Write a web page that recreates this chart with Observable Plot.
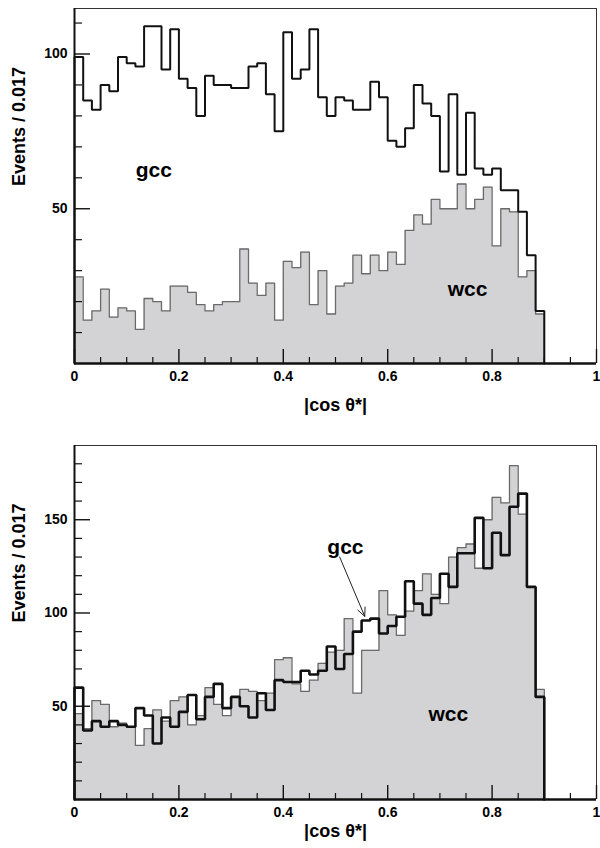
<!DOCTYPE html>
<html>
<head>
<meta charset="utf-8">
<script src="https://cdn.jsdelivr.net/npm/d3@7"></script>
<script src="https://cdn.jsdelivr.net/npm/@observablehq/plot@0.6"></script>
<style>
  body { margin: 0; background: #fff; }
  #chart svg { display: block; }
</style>
</head>
<body>
<div id="chart"></div>
<script>
// |cos θ*| histograms, 60 bins on [0, 1] (bin width 1/60 ≈ 0.017), filled up to 0.9
const binWidth = 1 / 60;

// Upper panel
const topGcc = [99, 85, 82, 90, 88, 99, 97, 96, 109, 109, 95, 108, 92, 89,
                80, 93, 90, 90, 89, 89, 96, 97, 87, 75, 107, 92, 95, 108,
                86, 80, 86, 85, 82, 82, 91, 86, 72, 70, 76, 90, 84, 80,
                62, 87, 61, 81, 63, 61, 63, 56, 56, 49, 35, 17];
const topWcc = [28, 14, 17, 24, 15, 18, 17, 11, 21, 20, 17, 25, 25, 23,
                19, 17, 19, 20, 20, 37, 26, 22, 26, 14, 33, 31, 36, 19,
                30, 16, 25, 26, 35, 29, 35, 30, 36, 32, 43, 48, 45, 53,
                50, 50, 58, 50, 53, 57, 38, 50, 49, 28, 30, 16];

// Lower panel
const botGcc = [60, 37, 42, 39, 42, 40, 39, 49, 45, 30, 44, 39, 47, 56,
                43, 55, 62, 49, 55, 50, 44, 57, 48, 64, 63, 63, 69, 67,
                69, 82, 70, 78, 90, 96, 97, 89, 93, 98, 117, 105, 99, 108,
                121, 114, 132, 132, 151, 124, 143, 131, 157, 164, 114, 55];
const botWcc = [46, 38, 53, 51, 39, 41, 39, 29, 38, 48, 42, 53, 55, 40,
                45, 60, 51, 45, 55, 59, 58, 53, 57, 75, 76, 62, 58, 64,
                73, 79, 80, 97, 57, 80, 80, 112, 99, 88, 101, 112, 121, 110,
                105, 130, 135, 137, 124, 150, 162, 159, 179, 153, 114, 59];

// Axis ticks
const xMajor = [0, 0.2, 0.4, 0.6, 0.8, 1];
const xMinor = [0.05, 0.1, 0.15, 0.25, 0.3, 0.35, 0.45, 0.5, 0.55, 0.65, 0.7, 0.75, 0.85, 0.9, 0.95];
const topYMajor = [50, 100];
const topYMinor = [10, 20, 30, 40, 60, 70, 80, 90, 110];
const botYMajor = [50, 100, 150];
const botYMinor = [10, 20, 30, 40, 60, 70, 80, 90, 110, 120, 130, 140, 160, 170, 180];

const xTitle = "|cos θ*|";
const yTitle = "Events / 0.017";

// Outline of a histogram as a step path starting and ending on the baseline
function steps(values) {
  const pts = [{x: 0, y: 0}];
  values.forEach((v, i) => {
    pts.push({x: i * binWidth, y: v}, {x: (i + 1) * binWidth, y: v});
  });
  pts.push({x: values.length * binWidth, y: 0});
  return pts;
}

const font = "'Liberation Sans', Arial, Helvetica, sans-serif";

function panel({gcc, wcc, yMax, yMajor, yMinor, height, marginTop, marginBottom,
                gccWidth, titleDy, notes, arrows}) {
  const g = steps(gcc), w = steps(wcc);
  return Plot.plot({
    width: 600,
    height,
    marginLeft: 74,
    marginRight: 4,
    marginTop,
    marginBottom,
    x: {domain: [0, 1]},
    y: {domain: [0, yMax]},
    style: {fontFamily: font, fontWeight: "bold", fontSize: "14px", color: "#000", background: "#fff"},
    marks: [
      // wcc: filled histogram with grey outline (no stacking)
      Plot.area(w, {x1: "x", y1: () => 0, y2: "y", fill: "#d3d3d5"}),
      Plot.line(w, {x: "x", y: "y", stroke: "#6a6a6a", strokeWidth: 1.3}),
      // gcc: open black histogram
      Plot.line(g, {x: "x", y: "y", stroke: "#111", strokeWidth: gccWidth, strokeLinejoin: "miter"}),
      // frame
      Plot.ruleY([yMax], {stroke: "#333", strokeWidth: 1}),
      Plot.ruleX([1], {stroke: "#333", strokeWidth: 1}),
      Plot.ruleX([0], {stroke: "#111", strokeWidth: 2}),
      Plot.ruleY([0], {stroke: "#111", strokeWidth: 2.5}),
      // inward ticks
      Plot.axisX(xMajor, {tickSize: -14, fill: "none", stroke: "#111", strokeWidth: 1.4, label: null}),
      Plot.axisX(xMinor, {tickSize: -6, fill: "none", stroke: "#111", strokeWidth: 1.2, label: null}),
      Plot.axisY(yMajor, {tickSize: -16, fill: "none", stroke: "#111", strokeWidth: 1.4, label: null}),
      Plot.axisY(yMinor, {tickSize: -8, fill: "none", stroke: "#111", strokeWidth: 1.2, label: null}),
      // tick labels
      Plot.axisX(xMajor, {tickSize: 0, tickPadding: 8, tickFormat: d => String(d), fontSize: 14, fontWeight: "bold", label: null}),
      Plot.axisY(yMajor, {tickSize: 0, tickPadding: 7, tickFormat: d => String(d), fontSize: 14, fontWeight: "bold", label: null}),
      // axis titles
      Plot.text([xTitle], {frameAnchor: "bottom", dy: titleDy, text: d => d, fontSize: 18, fontWeight: "bold"}),
      Plot.text([yTitle], {frameAnchor: "left", dx: -55, rotate: -90, text: d => d, fontSize: 18, fontWeight: "bold"}),
      // sample labels
      Plot.text(notes, {x: "x", y: "y", text: "label", fontSize: 21, fontWeight: "bold"}),
      Plot.arrow(arrows, {x1: "x1", y1: "y1", x2: "x2", y2: "y2", stroke: "#222", strokeWidth: 1, headLength: 14, headAngle: 50})
    ]
  });
}

const chart = document.getElementById("chart");

chart.append(panel({
  gcc: topGcc, wcc: topWcc,
  yMax: 114.7, yMajor: topYMajor, yMinor: topYMinor,
  height: 424, marginTop: 8, marginBottom: 61,
  gccWidth: 2, titleDy: 47,
  notes: [{x: 0.152, y: 62.5, label: "gcc"}, {x: 0.753, y: 24, label: "wcc"}],
  arrows: []
}));

chart.append(panel({
  gcc: botGcc, wcc: botWcc,
  yMax: 189.8, yMajor: botYMajor, yMinor: botYMinor,
  height: 424, marginTop: 21, marginBottom: 49,
  gccWidth: 2.6, titleDy: 37,
  notes: [{x: 0.519, y: 135.5, label: "gcc"}, {x: 0.716, y: 45.5, label: "wcc"}],
  arrows: [{x1: 0.508, y1: 130, x2: 0.556, y2: 98.2}]
}));
</script>
</body>
</html>
